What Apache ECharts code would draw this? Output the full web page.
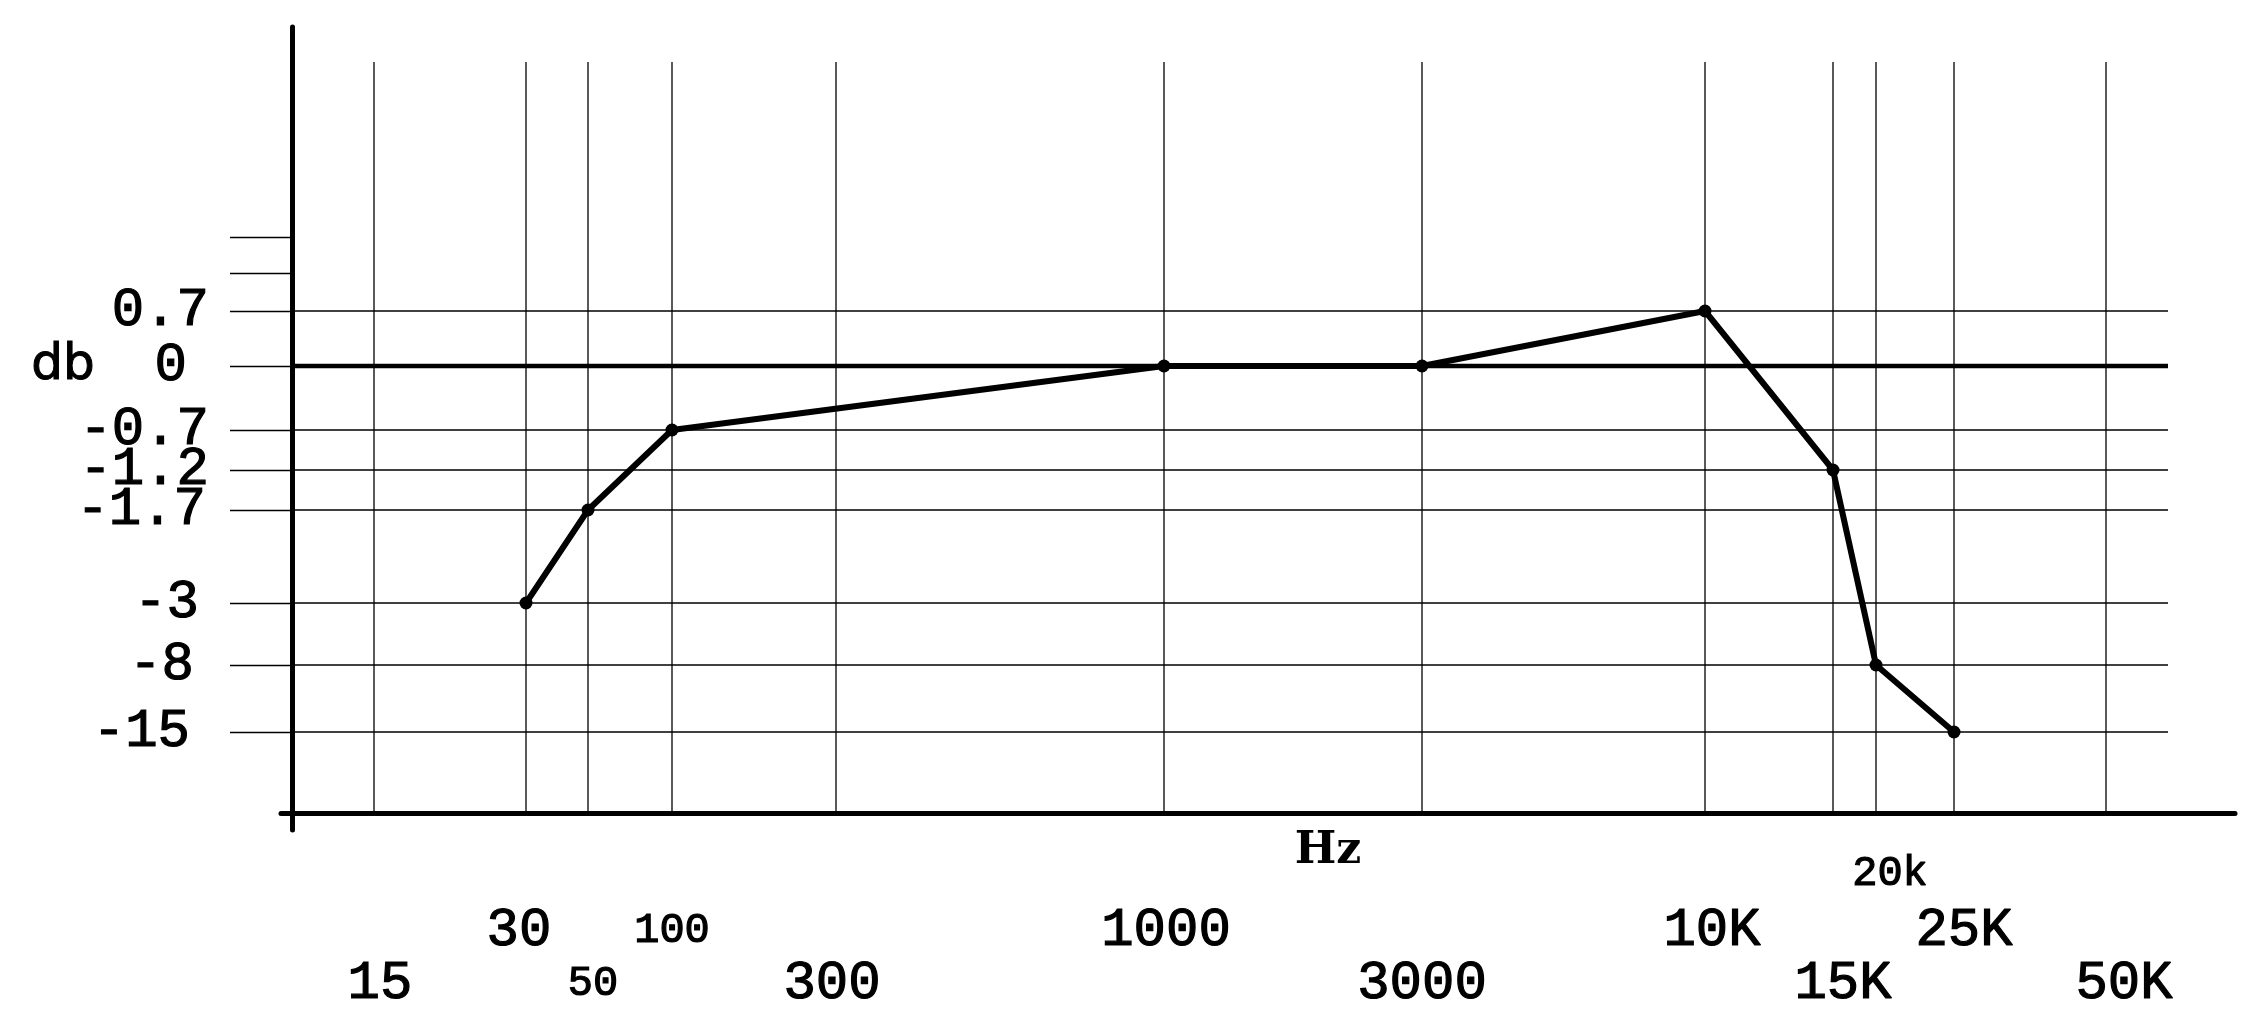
<!DOCTYPE html>
<html>
<head>
<meta charset="utf-8">
<script src="https://cdn.jsdelivr.net/npm/echarts@6/dist/echarts.min.js"></script>
<style>
  html, body { margin: 0; padding: 0; background: #fff; }
  #chart { width: 2265px; height: 1016px; }
</style>
</head>
<body>
<div id="chart"></div>
<script>
// measured response (Hz / dB)
const freqs = [30, 50, 100, 1000, 3000, 10000, 15000, 20000, 25000];
const gains = [-3, -1.7, -0.7, 0, 0, 0.7, -1.2, -8, -15];

// the axes are hand-spaced, so each tick keeps its own place along the axis
const freqTicks = [15, 30, 50, 100, 300, 1000, 3000, 10000, 15000, 20000, 25000, 50000];
const freqTickLabels = ['15', '30', '50', '100', '300', '1000', '3000', '10K', '15K', '20k', '25K', '50K'];
const freqTickPos = [82, 234, 296, 380, 544, 872, 1130, 1413, 1541, 1584, 1662, 1814];

const dbTicks = [0.7, 0, -0.7, -1.2, -1.7, -3, -8, -15];
const dbTickLabels = ['0.7', '0', '-0.7', '-1.2', '-1.7', '-3', '-8', '-15'];
const dbTickPos = [502, 447, 383, 343, 303, 210, 148, 81];
const dbBlankTickPos = [576, 540]; // two short unlabelled ticks above 0.7

// label placement (row under the axis, small font, sideways nudge in px)
const xLabelRow = [2, 1, 2, 1, 2, 1, 2, 1, 2, 0, 1, 2];
const xLabelSmall = [false, false, true, true, false, false, false, false, false, true, false, false];
const xLabelNudge = [6, -7, 5, 0, -4, 2, 0, 7, 10, 14, 10, 18];
const yLabelNudge = [0, 22, 0, 0, 3, 10, 15, 19];

const X_MIN = -11, X_MAX = 1943;   // axis units
const Y_MIN = -17, Y_MAX = 786;
const V_TOP = 751;                 // top of the vertical grid lines
const H_RIGHT = 1876;              // right end of the horizontal grid lines

const MONO = 'Liberation Mono';
const INK = {color: '#000', textBorderColor: '#000', textBorderWidth: 1.2};

// piecewise scale between ticks
function interp(v, ticks, pos, log) {
  const t = log ? ticks.map(Math.log10) : ticks;
  const x = log ? Math.log10(v) : v;
  for (let i = 0; i < t.length - 1; i++) {
    const a = t[i], b = t[i + 1];
    if ((x - a) * (x - b) <= 0) {
      return a === b ? pos[i] : pos[i] + (x - a) / (b - a) * (pos[i + 1] - pos[i]);
    }
  }
  return null;
}
const xs = f => interp(f, freqTicks, freqTickPos, true);
const ys = d => interp(d, dbTicks, dbTickPos, false);

const chart = echarts.init(document.getElementById('chart'));

// label-only axes sit on the grid's bottom edge, not on the 0 line
const rowMargin = {0: 16, 1: 73, 2: 126};

function labelAxis(row) {
  const idx = freqTicks.map((f, i) => i).filter(i => xLabelRow[i] === row);
  const rich = {};
  idx.forEach(i => {
    const n = xLabelNudge[i];
    rich['t' + i] = Object.assign({
      fontFamily: MONO,
      fontSize: xLabelSmall[i] ? 42 : 54,
      lineHeight: 56,
      padding: n >= 0 ? [0, 0, 0, 2 * n] : [0, -2 * n, 0, 0]
    }, INK);
  });
  return {
    type: 'value',
    gridIndex: 0,
    position: 'bottom',
    min: X_MIN,
    max: X_MAX,
    axisLine: {show: false},
    axisTick: {show: false},
    splitLine: {show: false},
    axisLabel: {
      customValues: idx.map(i => xs(freqTicks[i])),
      showMinLabel: true,
      showMaxLabel: true,
      margin: rowMargin[row],
      formatter: v => {
        const i = idx.find(k => Math.abs(xs(freqTicks[k]) - v) < 0.01);
        return '{t' + i + '|' + freqTickLabels[i] + '}';
      },
      rich
    }
  };
}

const yRich = {};
dbTicks.forEach((d, i) => {
  yRich['y' + i] = Object.assign({
    fontFamily: MONO,
    fontSize: 54,
    padding: [0, yLabelNudge[i], 0, 0]
  }, INK);
});

const option = {
  animation: false,
  backgroundColor: '#fff',
  grid: {left: 281, right: 30, top: 27, bottom: 186, containLabel: false, outerBoundsMode: 'none'},
  xAxis: [
    {
      type: 'value',
      min: X_MIN,
      max: X_MAX,
      axisLine: {show: true, onZero: true, lineStyle: {color: '#000', width: 5}},
      axisTick: {show: false},
      axisLabel: {show: false},
      splitLine: {show: false}
    },
    labelAxis(1),
    labelAxis(2),
    labelAxis(0)
  ],
  yAxis: {
    type: 'value',
    min: Y_MIN,
    max: Y_MAX,
    axisLine: {show: true, onZero: true, lineStyle: {color: '#000', width: 5}},
    axisTick: {
      show: true,
      length: 62,
      customValues: dbTicks.map(ys).concat(dbBlankTickPos),
      lineStyle: {color: '#000', width: 1.3}
    },
    axisLabel: {
      customValues: dbTicks.map(ys),
      margin: 72,
      formatter: v => {
        const i = dbTicks.findIndex(d => Math.abs(ys(d) - v) < 0.01);
        return '{y' + i + '|' + dbTickLabels[i] + '}';
      },
      rich: yRich
    },
    splitLine: {show: false}
  },
  graphic: [
    {
      type: 'text', x: 63, y: 366,
      style: {text: 'db', fontFamily: 'DejaVu Sans', fontSize: 50, fill: '#000', stroke: '#000', lineWidth: 1, align: 'center', verticalAlign: 'middle'}
    },
    {
      type: 'text', x: 1328, y: 852,
      style: {text: 'Hz', fontFamily: 'DejaVu Serif', fontWeight: 'bold', fontSize: 44, fill: '#000', align: 'center', verticalAlign: 'middle'}
    }
  ],
  series: [
    { // vertical grid lines
      type: 'custom',
      z: 1,
      silent: true,
      data: freqTicks.map(f => [xs(f), 0]),
      encode: {x: 0, y: 1},
      renderItem: (params, api) => {
        const x = api.value(0);
        const p1 = api.coord([x, V_TOP]);
        const p2 = api.coord([x, 0]);
        return {
          type: 'line',
          shape: {x1: p1[0], y1: p1[1], x2: p2[0], y2: p2[1]},
          style: {stroke: '#000', lineWidth: 1.3}
        };
      }
    },
    { // horizontal grid lines, the 0 dB one drawn heavy
      type: 'custom',
      z: 1,
      silent: true,
      data: dbTicks.map(d => [0, ys(d), d === 0 ? 1 : 0]),
      encode: {x: 0, y: 1},
      renderItem: (params, api) => {
        const y = api.value(1);
        const p1 = api.coord([0, y]);
        const p2 = api.coord([H_RIGHT, y]);
        return {
          type: 'line',
          shape: {x1: p1[0], y1: p1[1], x2: p2[0], y2: p2[1]},
          style: {stroke: '#000', lineWidth: api.value(2) ? 4.5 : 1.3}
        };
      }
    },
    {
      type: 'line',
      z: 5,
      data: freqs.map((f, i) => [xs(f), ys(gains[i])]),
      symbol: 'circle',
      symbolSize: 13,
      lineStyle: {color: '#000', width: 6},
      itemStyle: {color: '#000'}
    }
  ]
};

chart.setOption(option);
</script>
</body>
</html>
